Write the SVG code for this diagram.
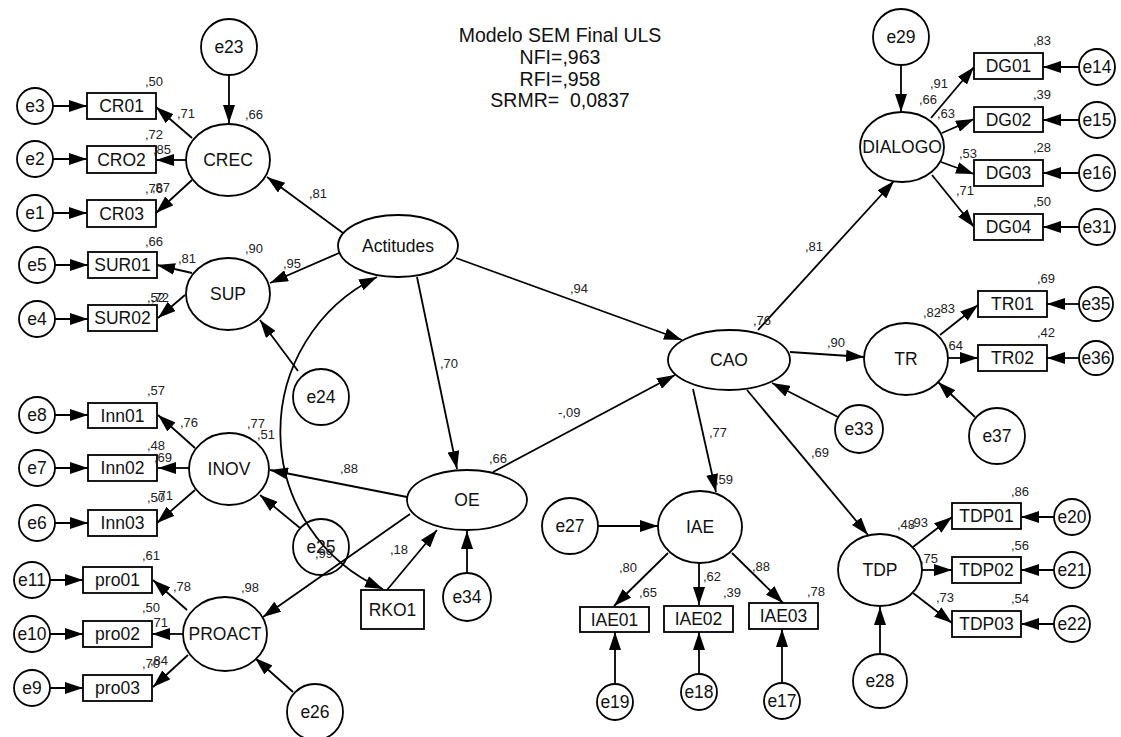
<svg xmlns="http://www.w3.org/2000/svg" width="1121" height="737" viewBox="0 0 1121 737">
<style>
.s{fill:#fff;stroke:#000;stroke-width:1.8}
.c{fill:none;stroke:#000;stroke-width:1.8}
.a{marker-end:url(#ah)}
.t{font-family:"Liberation Sans",Arial,sans-serif;font-size:17.5px;fill:#111;text-anchor:middle}
.n{font-family:"Liberation Sans",Arial,sans-serif;font-size:13px;fill:#222}
.h{font-family:"Liberation Sans",Arial,sans-serif;font-size:19.5px;fill:#111;text-anchor:middle;white-space:pre}
</style>
<defs>
<marker id="ah" viewBox="0 0 18 12" refX="18" refY="6" markerWidth="18" markerHeight="12" markerUnits="userSpaceOnUse" orient="auto-start-reverse"><path d="M0,0 L18,6 L0,12 z" fill="#000"/></marker>
</defs>
<rect width="1121" height="737" fill="#fff"/>
<g id="title">
<text class="h" x="560" y="42">Modelo SEM Final ULS</text>
<text class="h" x="560" y="64">NFI=,963</text>
<text class="h" x="560" y="85.5">RFI=,958</text>
<text class="h" x="560" y="107">SRMR=  0,0837</text>
</g>
<g id="connectors" class="c">
<line class="a" x1="229" y1="75" x2="229" y2="123"/>
<line class="a" x1="192" y1="138" x2="156" y2="107"/>
<line class="a" x1="186" y1="160" x2="156" y2="160"/>
<line class="a" x1="192" y1="180" x2="156" y2="213"/>
<line class="a" x1="53" y1="106" x2="87" y2="106"/>
<line class="a" x1="53" y1="159" x2="87" y2="159"/>
<line class="a" x1="53" y1="213" x2="87" y2="213"/>
<line class="a" x1="343" y1="233" x2="267" y2="177"/>
<line class="a" x1="339" y1="253" x2="270" y2="283"/>
<line class="a" x1="298" y1="371" x2="260" y2="320"/>
<line class="a" x1="192" y1="273" x2="157" y2="265"/>
<line class="a" x1="185" y1="295" x2="158" y2="318"/>
<line class="a" x1="55" y1="265" x2="88" y2="265"/>
<line class="a" x1="55" y1="319" x2="88" y2="319"/>
<line class="a" x1="195" y1="448" x2="158" y2="415"/>
<line class="a" x1="189" y1="468" x2="158" y2="468"/>
<line class="a" x1="195" y1="490" x2="157" y2="523"/>
<line class="a" x1="55" y1="415" x2="88" y2="415"/>
<line class="a" x1="55" y1="468" x2="88" y2="468"/>
<line class="a" x1="55" y1="523" x2="88" y2="523"/>
<line class="a" x1="407" y1="497" x2="270" y2="470"/>
<line class="a" x1="300" y1="528" x2="260" y2="495"/>
<line class="a" x1="410" y1="514" x2="263" y2="617"/>
<line class="a" x1="293" y1="692" x2="255" y2="658"/>
<line class="a" x1="187" y1="610" x2="153" y2="580"/>
<line class="a" x1="183" y1="634" x2="152" y2="634"/>
<line class="a" x1="188" y1="655" x2="153" y2="687"/>
<line class="a" x1="50" y1="580" x2="83" y2="580"/>
<line class="a" x1="50" y1="634" x2="83" y2="634"/>
<line class="a" x1="50" y1="688" x2="83" y2="688"/>
<line class="a" x1="417" y1="277" x2="457" y2="469"/>
<line class="a" x1="456" y1="258" x2="682" y2="340"/>
<line class="a" x1="493" y1="472" x2="675" y2="375"/>
<line class="a" x1="387" y1="590" x2="437" y2="530"/>
<line class="a" x1="467" y1="573" x2="467" y2="531"/>
<path class="a" style="marker-start:url(#ah)" d="M383,589 A172,172 0 0 1 377,277"/>
<line class="a" x1="758" y1="330" x2="894" y2="181"/>
<line class="a" x1="901" y1="65" x2="901" y2="112"/>
<line class="a" x1="931" y1="118" x2="974" y2="67"/>
<line class="a" x1="942" y1="133" x2="974" y2="119"/>
<line class="a" x1="941" y1="162" x2="974" y2="174"/>
<line class="a" x1="932" y1="175" x2="974" y2="227"/>
<line class="a" x1="1079" y1="67" x2="1043" y2="67"/>
<line class="a" x1="1079" y1="120" x2="1043" y2="120"/>
<line class="a" x1="1079" y1="173" x2="1043" y2="173"/>
<line class="a" x1="1079" y1="227" x2="1043" y2="227"/>
<line class="a" x1="790" y1="352" x2="864" y2="357"/>
<line class="a" x1="838" y1="417" x2="772" y2="383"/>
<line class="a" x1="940" y1="335" x2="978" y2="305"/>
<line class="a" x1="948" y1="358" x2="978" y2="358"/>
<line class="a" x1="975" y1="417" x2="938" y2="382"/>
<line class="a" x1="1079" y1="304" x2="1047" y2="304"/>
<line class="a" x1="1079" y1="358" x2="1047" y2="358"/>
<line class="a" x1="747" y1="390" x2="868" y2="535"/>
<line class="a" x1="693" y1="389" x2="716" y2="492"/>
<line class="a" x1="598" y1="526" x2="658" y2="526"/>
<line class="a" x1="668" y1="553" x2="614" y2="606"/>
<line class="a" x1="699" y1="563" x2="699" y2="605"/>
<line class="a" x1="732" y1="553" x2="783" y2="603"/>
<line class="a" x1="615" y1="684" x2="615" y2="632"/>
<line class="a" x1="699" y1="674" x2="699" y2="632"/>
<line class="a" x1="782" y1="683" x2="782" y2="629"/>
<line class="a" x1="913" y1="547" x2="952" y2="517"/>
<line class="a" x1="922" y1="570" x2="952" y2="570"/>
<line class="a" x1="913" y1="593" x2="952" y2="623"/>
<line class="a" x1="880" y1="654" x2="880" y2="607"/>
<line class="a" x1="1054" y1="517" x2="1021" y2="517"/>
<line class="a" x1="1054" y1="570" x2="1021" y2="570"/>
<line class="a" x1="1054" y1="624" x2="1021" y2="624"/>
</g>
<g id="CREC"><ellipse class="s" cx="228" cy="160" rx="42" ry="36"/><text class="t" x="228" y="166">CREC</text></g>
<g id="SUP"><ellipse class="s" cx="228" cy="294" rx="42" ry="36"/><text class="t" x="228" y="300">SUP</text></g>
<g id="INOV"><ellipse class="s" cx="229" cy="469" rx="40" ry="36"/><text class="t" x="229" y="475">INOV</text></g>
<g id="PROACT"><ellipse class="s" cx="225" cy="634" rx="42" ry="37"/><text class="t" x="225" y="640">PROACT</text></g>
<g id="Actitudes"><ellipse class="s" cx="398" cy="246" rx="60" ry="31"/><text class="t" x="398" y="252">Actitudes</text></g>
<g id="OE"><ellipse class="s" cx="467" cy="500" rx="60" ry="30"/><text class="t" x="467" y="506">OE</text></g>
<g id="CAO"><ellipse class="s" cx="729" cy="360" rx="61" ry="30"/><text class="t" x="729" y="366">CAO</text></g>
<g id="IAE"><ellipse class="s" cx="700" cy="527" rx="42" ry="36"/><text class="t" x="700" y="533">IAE</text></g>
<g id="DIALOGO"><ellipse class="s" cx="902" cy="147" rx="42" ry="35"/><text class="t" x="902" y="153">DIALOGO</text></g>
<g id="TR"><ellipse class="s" cx="906" cy="359" rx="42" ry="36"/><text class="t" x="906" y="365">TR</text></g>
<g id="TDP"><ellipse class="s" cx="880" cy="570" rx="42" ry="36"/><text class="t" x="880" y="576">TDP</text></g>
<g id="CR01"><rect class="s" x="87" y="93" width="69" height="26"/><text class="t" x="121.5" y="112">CR01</text></g>
<g id="CRO2"><rect class="s" x="87" y="146" width="69" height="27"/><text class="t" x="121.5" y="166">CRO2</text></g>
<g id="CR03"><rect class="s" x="87" y="200" width="69" height="27"/><text class="t" x="121.5" y="220">CR03</text></g>
<g id="SUR01"><rect class="s" x="88" y="252" width="69" height="26"/><text class="t" x="122.5" y="271">SUR01</text></g>
<g id="SUR02"><rect class="s" x="88" y="305" width="69" height="26"/><text class="t" x="122.5" y="324">SUR02</text></g>
<g id="Inn01"><rect class="s" x="88" y="403" width="69" height="25"/><text class="t" x="122.5" y="422">Inn01</text></g>
<g id="Inn02"><rect class="s" x="88" y="455" width="69" height="26"/><text class="t" x="122.5" y="474">Inn02</text></g>
<g id="Inn03"><rect class="s" x="88" y="510" width="69" height="26"/><text class="t" x="122.5" y="529">Inn03</text></g>
<g id="pro01"><rect class="s" x="83" y="567" width="69" height="26"/><text class="t" x="117.5" y="586">pro01</text></g>
<g id="pro02"><rect class="s" x="83" y="621" width="69" height="26"/><text class="t" x="117.5" y="640">pro02</text></g>
<g id="pro03"><rect class="s" x="83" y="675" width="69" height="26"/><text class="t" x="117.5" y="694">pro03</text></g>
<g id="RKO1"><rect class="s" x="361" y="590" width="63" height="39"/><text class="t" x="392.5" y="616">RKO1</text></g>
<g id="IAE01"><rect class="s" x="580" y="607" width="69" height="25"/><text class="t" x="614.5" y="626">IAE01</text></g>
<g id="IAE02"><rect class="s" x="664" y="606" width="69" height="26"/><text class="t" x="698.5" y="625">IAE02</text></g>
<g id="IAE03"><rect class="s" x="749" y="603" width="69" height="26"/><text class="t" x="783.5" y="622">IAE03</text></g>
<g id="DG01"><rect class="s" x="974" y="53" width="69" height="26"/><text class="t" x="1008.5" y="72">DG01</text></g>
<g id="DG02"><rect class="s" x="974" y="107" width="69" height="25"/><text class="t" x="1008.5" y="126">DG02</text></g>
<g id="DG03"><rect class="s" x="974" y="160" width="69" height="26"/><text class="t" x="1008.5" y="179">DG03</text></g>
<g id="DG04"><rect class="s" x="974" y="214" width="69" height="26"/><text class="t" x="1008.5" y="233">DG04</text></g>
<g id="TR01"><rect class="s" x="978" y="291" width="69" height="26"/><text class="t" x="1012.5" y="310">TR01</text></g>
<g id="TR02"><rect class="s" x="978" y="345" width="69" height="26"/><text class="t" x="1012.5" y="364">TR02</text></g>
<g id="TDP01"><rect class="s" x="952" y="503" width="69" height="26"/><text class="t" x="986.5" y="522">TDP01</text></g>
<g id="TDP02"><rect class="s" x="952" y="557" width="69" height="26"/><text class="t" x="986.5" y="576">TDP02</text></g>
<g id="TDP03"><rect class="s" x="952" y="611" width="69" height="26"/><text class="t" x="986.5" y="630">TDP03</text></g>
<g id="e23"><circle class="s" cx="229" cy="47" r="28"/><text class="t" x="229" y="53">e23</text></g>
<g id="e3"><circle class="s" cx="35" cy="106" r="18"/><text class="t" x="35" y="112">e3</text></g>
<g id="e2"><circle class="s" cx="35" cy="159" r="18"/><text class="t" x="35" y="165">e2</text></g>
<g id="e1"><circle class="s" cx="35" cy="213" r="18"/><text class="t" x="35" y="219">e1</text></g>
<g id="e5"><circle class="s" cx="37" cy="265" r="18"/><text class="t" x="37" y="271">e5</text></g>
<g id="e4"><circle class="s" cx="37" cy="319" r="18"/><text class="t" x="37" y="325">e4</text></g>
<g id="e24"><circle class="s" cx="321" cy="397" r="28"/><text class="t" x="321" y="403">e24</text></g>
<g id="e8"><circle class="s" cx="37" cy="415" r="18"/><text class="t" x="37" y="421">e8</text></g>
<g id="e7"><circle class="s" cx="37" cy="468" r="18"/><text class="t" x="37" y="474">e7</text></g>
<g id="e6"><circle class="s" cx="37" cy="523" r="18"/><text class="t" x="37" y="529">e6</text></g>
<g id="e25"><circle class="s" cx="321" cy="547" r="28" style="fill:none"/><text class="t" x="321" y="553">e25</text></g>
<g id="e11"><circle class="s" cx="32" cy="580" r="18"/><text class="t" x="32" y="586">e11</text></g>
<g id="e10"><circle class="s" cx="32" cy="634" r="18"/><text class="t" x="32" y="640">e10</text></g>
<g id="e9"><circle class="s" cx="32" cy="688" r="18"/><text class="t" x="32" y="694">e9</text></g>
<g id="e26"><circle class="s" cx="315" cy="712" r="28"/><text class="t" x="315" y="718">e26</text></g>
<g id="e34"><circle class="s" cx="467" cy="597" r="24"/><text class="t" x="467" y="603">e34</text></g>
<g id="e27"><circle class="s" cx="570" cy="526" r="28"/><text class="t" x="570" y="532">e27</text></g>
<g id="e19"><circle class="s" cx="615" cy="702" r="18"/><text class="t" x="615" y="708">e19</text></g>
<g id="e18"><circle class="s" cx="699" cy="692" r="18"/><text class="t" x="699" y="698">e18</text></g>
<g id="e17"><circle class="s" cx="782" cy="701" r="18"/><text class="t" x="782" y="707">e17</text></g>
<g id="e33"><circle class="s" cx="859" cy="429" r="24"/><text class="t" x="859" y="435">e33</text></g>
<g id="e29"><circle class="s" cx="901" cy="37" r="28"/><text class="t" x="901" y="43">e29</text></g>
<g id="e14"><circle class="s" cx="1097" cy="67" r="18"/><text class="t" x="1097" y="73">e14</text></g>
<g id="e15"><circle class="s" cx="1097" cy="120" r="18"/><text class="t" x="1097" y="126">e15</text></g>
<g id="e16"><circle class="s" cx="1097" cy="173" r="18"/><text class="t" x="1097" y="179">e16</text></g>
<g id="e31"><circle class="s" cx="1097" cy="227" r="18"/><text class="t" x="1097" y="233">e31</text></g>
<g id="e35"><circle class="s" cx="1096" cy="304" r="17"/><text class="t" x="1096" y="310">e35</text></g>
<g id="e36"><circle class="s" cx="1096" cy="358" r="17"/><text class="t" x="1096" y="364">e36</text></g>
<g id="e37"><circle class="s" cx="997" cy="436" r="28"/><text class="t" x="997" y="442">e37</text></g>
<g id="e28"><circle class="s" cx="880" cy="681" r="27"/><text class="t" x="880" y="687">e28</text></g>
<g id="e20"><circle class="s" cx="1072" cy="517" r="18"/><text class="t" x="1072" y="523">e20</text></g>
<g id="e21"><circle class="s" cx="1072" cy="570" r="18"/><text class="t" x="1072" y="576">e21</text></g>
<g id="e22"><circle class="s" cx="1072" cy="624" r="18"/><text class="t" x="1072" y="630">e22</text></g>
<g id="estimates" class="n">
<text x="145" y="86">,50</text>
<text x="177" y="118">,71</text>
<text x="245" y="119">,66</text>
<text x="145" y="139">,72</text>
<text x="153" y="154">,85</text>
<text x="145" y="193">,76</text>
<text x="152" y="192">,87</text>
<text x="309" y="198">,81</text>
<text x="145" y="246">,66</text>
<text x="178" y="263">,81</text>
<text x="245" y="253">,90</text>
<text x="283" y="268">,95</text>
<text x="147" y="302">,52</text>
<text x="151" y="302">,72</text>
<text x="147" y="395">,57</text>
<text x="180" y="427">,76</text>
<text x="247" y="428">,77</text>
<text x="257" y="439">,51</text>
<text x="147" y="450">,48</text>
<text x="154" y="462">,69</text>
<text x="340" y="473">,88</text>
<text x="147" y="502">,50</text>
<text x="155" y="500">,71</text>
<text x="142" y="560">,61</text>
<text x="173" y="591">,78</text>
<text x="241" y="592">,98</text>
<text x="142" y="612">,50</text>
<text x="150" y="627">,71</text>
<text x="142" y="668">,70</text>
<text x="150" y="665">,84</text>
<text x="315" y="558">,99</text>
<text x="570" y="293">,94</text>
<text x="440" y="368">,70</text>
<text x="558" y="417">-,09</text>
<text x="489" y="463">,66</text>
<text x="390" y="554">,18</text>
<text x="709" y="437">,77</text>
<text x="715" y="484">,59</text>
<text x="753" y="325">,76</text>
<text x="827" y="347">,90</text>
<text x="811" y="457">,69</text>
<text x="805" y="251">,81</text>
<text x="619" y="572">,80</text>
<text x="639" y="597">,65</text>
<text x="703" y="581">,62</text>
<text x="723" y="597">,39</text>
<text x="752" y="571">,88</text>
<text x="807" y="596">,78</text>
<text x="1033" y="45">,83</text>
<text x="930" y="88">,91</text>
<text x="919" y="104">,66</text>
<text x="937" y="118">,63</text>
<text x="1033" y="99">,39</text>
<text x="1033" y="152">,28</text>
<text x="959" y="158">,53</text>
<text x="956" y="195">,71</text>
<text x="1033" y="206">,50</text>
<text x="1037" y="283">,69</text>
<text x="923" y="317">,82</text>
<text x="937" y="313">,83</text>
<text x="1037" y="337">,42</text>
<text x="945" y="350">,64</text>
<text x="1011" y="496">,86</text>
<text x="897" y="529">,48</text>
<text x="910" y="527">,93</text>
<text x="1011" y="550">,56</text>
<text x="920" y="563">,75</text>
<text x="936" y="602">,73</text>
<text x="1011" y="603">,54</text>
</g>
</svg>
